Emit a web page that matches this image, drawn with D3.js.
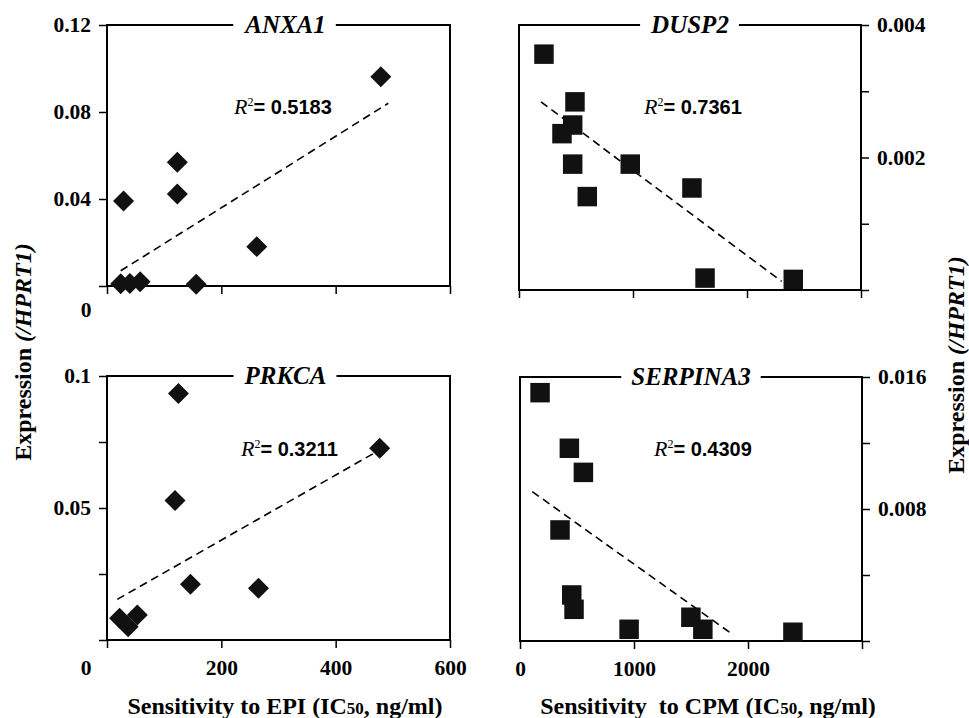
<!DOCTYPE html>
<html><head><meta charset="utf-8">
<script src="https://cdn.jsdelivr.net/npm/d3@7"></script>
<style>body{margin:0;background:#fff}</style>
</head><body>
<svg id="c" width="969" height="718" xmlns="http://www.w3.org/2000/svg"></svg>
<script>
// ---------- data ----------
const epiTicks = [0, 200, 400, 600];
const epiTickLabels = ["", "200", "400", "600"];
const cpmTicks = [0, 1000, 2000, 3000];
const cpmTickLabels = ["0", "1000", "2000", ""];

const anxa1_ic50 = [479, 123, 123, 29, 262, 156, 24, 40, 58];
const anxa1_expr = [0.0962, 0.0569, 0.0423, 0.0391, 0.0181, 0.0008, 0.0010, 0.0012, 0.0020];
const anxa1_fit = [[24, 0.0070], [492, 0.0840]];
const anxa1_yTicks = [0, 0.04, 0.08, 0.12];
const anxa1_yTickLabels = ["", "0.04", "0.08", "0.12"];

const dusp2_ic50 = [219, 491, 471, 377, 471, 976, 599, 1517, 1632, 2406];
const dusp2_expr = [0.00356, 0.00284, 0.00249, 0.00236, 0.00190, 0.00190, 0.00141, 0.00154, 0.00018, 0.00016];
const dusp2_fit = [[193, 0.00284], [2304, 0.00013]];
const dusp2_yTicks = [0, 0.001, 0.002, 0.003, 0.004];
const dusp2_yTickLabels = ["", "", "0.002", "", "0.004"];

const prkca_ic50 = [125, 477, 119, 146, 265, 22, 37, 53];
const prkca_expr = [0.0934, 0.0726, 0.0528, 0.0211, 0.0196, 0.0082, 0.0050, 0.0095];
const prkca_fit = [[18, 0.0154], [469, 0.0710]];
const prkca_yTicks = [0, 0.025, 0.05, 0.075, 0.1];
const prkca_yTickLabels = ["", "", "0.05", "", "0.1"];

const serpina3_ic50 = [176, 433, 556, 351, 454, 474, 957, 1499, 1604, 2394];
const serpina3_expr = [0.01505, 0.01168, 0.01022, 0.00673, 0.00279, 0.00192, 0.00071, 0.00144, 0.00071, 0.00053];
const serpina3_fit = [[108, 0.00905], [1873, 0.00036]];
const serpina3_yTicks = [0, 0.004, 0.008, 0.012, 0.016];
const serpina3_yTickLabels = ["", "", "0.008", "", "0.016"];

const r2Values = ["0.5183", "0.7361", "0.3211", "0.4309"];
const geneNames = ["ANXA1", "DUSP2", "PRKCA", "SERPINA3"];

// ---------- layout ----------
const SERIF = "'Liberation Serif','Times New Roman',serif";
const SANS = "'Liberation Sans',Arial,sans-serif";
const TICK_FS = 21.5;
const svg = d3.select("#c");

const panels = [
  {name: geneNames[0], xs: anxa1_ic50, ys: anxa1_expr, fit: anxa1_fit, r2: r2Values[0],
   xdom: [0, 600], ydom: [0, 0.12], box: [107, 450, 25, 286], side: "left", shape: "diamond",
   yTicks: anxa1_yTicks, yLabels: anxa1_yTickLabels, xTicks: epiTicks, xLabels: null,
   r2pos: [234, 114], zero: [86, 317]},
  {name: geneNames[1], xs: dusp2_ic50, ys: dusp2_expr, fit: dusp2_fit, r2: r2Values[1],
   xdom: [0, 3000], ydom: [0, 0.004], box: [519, 861, 25, 290], side: "right", shape: "square",
   yTicks: dusp2_yTicks, yLabels: dusp2_yTickLabels, xTicks: cpmTicks, xLabels: null,
   r2pos: [644, 114]},
  {name: geneNames[2], xs: prkca_ic50, ys: prkca_expr, fit: prkca_fit, r2: r2Values[2],
   xdom: [0, 600], ydom: [0, 0.1], box: [107, 450, 376, 640], side: "left", shape: "diamond",
   yTicks: prkca_yTicks, yLabels: prkca_yTickLabels, xTicks: epiTicks, xLabels: epiTickLabels,
   r2pos: [241, 456], zero: [86, 675]},
  {name: geneNames[3], xs: serpina3_ic50, ys: serpina3_expr, fit: serpina3_fit, r2: r2Values[3],
   xdom: [0, 3000], ydom: [0, 0.016], box: [520, 862, 377, 641], side: "right", shape: "square",
   yTicks: serpina3_yTicks, yLabels: serpina3_yTickLabels, xTicks: cpmTicks, xLabels: cpmTickLabels,
   r2pos: [654, 456]}
];

panels.forEach(p => {
  const [x0, x1, y0, y1] = p.box;
  const x = d3.scaleLinear().domain(p.xdom).range([x0, x1]);
  const y = d3.scaleLinear().domain(p.ydom).range([y1, y0]);
  const g = svg.append("g");

  // y axis
  const yAxis = (p.side === "left" ? d3.axisLeft(y) : d3.axisRight(y))
    .tickValues(p.yTicks).tickSize(8).tickPadding(8).tickSizeOuter(0)
    .tickFormat((d, i) => p.yLabels[i]);
  const ya = g.append("g")
    .attr("transform", `translate(${p.side === "left" ? x0 : x1},0)`)
    .call(yAxis);
  ya.select(".domain").remove();
  ya.selectAll("line").attr("stroke", "#000").attr("stroke-width", 1.5);
  ya.selectAll("text").attr("font-family", SERIF).attr("font-weight", "bold")
    .attr("font-size", TICK_FS).attr("fill", "#000");

  // x axis
  const xAxis = d3.axisBottom(x).tickValues(p.xTicks).tickSize(8).tickPadding(12).tickSizeOuter(0)
    .tickFormat((d, i) => p.xLabels ? p.xLabels[i] : "");
  const xa = g.append("g").attr("transform", `translate(0,${y1})`).call(xAxis);
  xa.select(".domain").remove();
  xa.selectAll("line").attr("stroke", "#000").attr("stroke-width", 1.5);
  xa.selectAll("text").attr("font-family", SERIF).attr("font-weight", "bold")
    .attr("font-size", TICK_FS).attr("fill", "#000");

  if (p.zero) {
    g.append("text").attr("x", p.zero[0]).attr("y", p.zero[1]).attr("text-anchor", "middle")
      .attr("font-family", SERIF).attr("font-weight", "bold").attr("font-size", TICK_FS).text("0");
  }

  // frame
  g.append("rect").attr("x", x0).attr("y", y0).attr("width", x1 - x0).attr("height", y1 - y0)
    .attr("fill", "none").attr("stroke", "#000").attr("stroke-width", 2);

  // title with white gap
  const tcx = (x0 + x1) / 2 + (p.side === "left" ? 7 : 0);
  const tg = g.append("g");
  const bg = tg.append("rect").attr("fill", "#fff");
  const t = tg.append("text").attr("x", tcx).attr("y", y0 + 8).attr("text-anchor", "middle")
    .attr("font-family", SERIF).attr("font-weight", "bold").attr("font-style", "italic")
    .attr("font-size", 25).text(p.name);
  const bb = t.node().getBBox();
  bg.attr("x", bb.x - 10).attr("y", y0 - 3).attr("width", bb.width + 20).attr("height", 6);

  // fit line
  g.append("line")
    .attr("x1", x(p.fit[0][0])).attr("y1", y(p.fit[0][1]))
    .attr("x2", x(p.fit[1][0])).attr("y2", y(p.fit[1][1]))
    .attr("stroke", "#000").attr("stroke-width", 1.6).attr("stroke-dasharray", "8,5");

  // points
  const sym = p.shape === "diamond"
    ? d3.symbol().type(d3.symbolSquare).size(220)
    : d3.symbol().type(d3.symbolSquare).size(380);
  g.append("g").selectAll("path").data(p.xs.map((v, i) => [v, p.ys[i]])).join("path")
    .attr("d", sym)
    .attr("transform", d => `translate(${x(d[0])},${y(d[1])})${p.shape === "diamond" ? " rotate(45)" : ""}`)
    .attr("fill", "#111");

  // R^2
  const r = g.append("text").attr("x", p.r2pos[0]).attr("y", p.r2pos[1]).attr("fill", "#000");
  r.append("tspan").attr("font-family", SERIF).attr("font-style", "italic").attr("font-size", 22).text("R");
  r.append("tspan").attr("font-family", SERIF).attr("font-size", 12).attr("dy", -8).text("2");
  r.append("tspan").attr("font-family", SANS).attr("font-weight", "bold").attr("font-size", 20)
    .attr("dy", 8).text("= " + p.r2);
});

// axis titles
function xTitle(cx, first) {
  const t = svg.append("text").attr("x", cx).attr("y", 714).attr("text-anchor", "middle")
    .attr("font-family", SERIF).attr("font-weight", "bold").attr("font-size", 24)
    .attr("xml:space", "preserve");
  t.append("tspan").text(first + " (IC");
  t.append("tspan").attr("font-size", 17).text("50");
  t.append("tspan").text(", ng/ml)");
}
xTitle(285, "Sensitivity to EPI");
xTitle(708, "Sensitivity  to CPM");

function yTitle(x, cy) {
  const t = svg.append("text").attr("transform", `translate(${x},${cy}) rotate(-90)`)
    .attr("text-anchor", "middle").attr("font-family", SERIF).attr("font-weight", "bold")
    .attr("font-size", 24);
  t.append("tspan").text("Expression ");
  t.append("tspan").attr("font-style", "italic").text("(/HPRT1)");
}
yTitle(31, 352);
yTitle(964, 365);
</script>
</body></html>
